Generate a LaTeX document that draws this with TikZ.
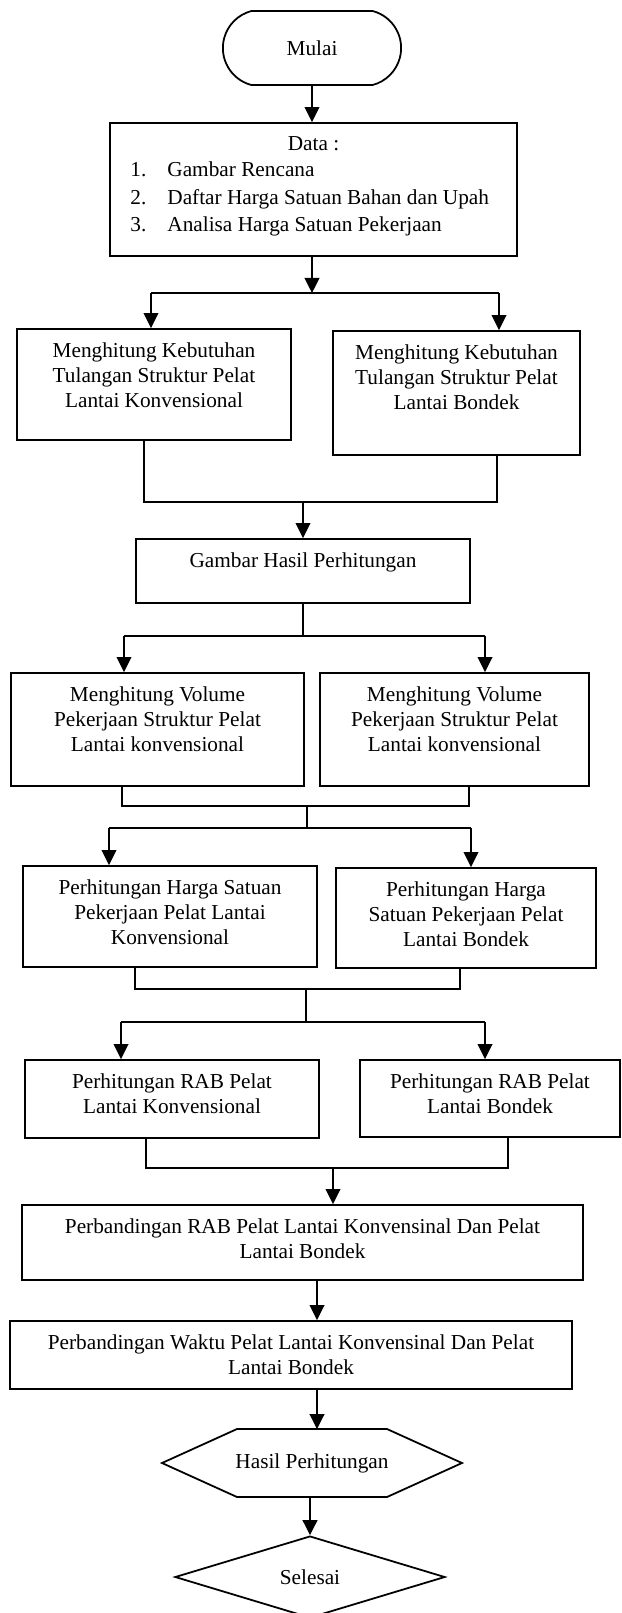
\documentclass[tikz,border=0pt]{standalone}
\usepackage{fontspec}
\setmainfont{Liberation Serif}
\usetikzlibrary{arrows.meta, fit, shapes.geometric, shapes.misc}
\newcommand{\px}{0.564pt}
\tikzset{box/.style={draw, rectangle, inner sep=0pt, line width=1pt}}
\tikzset{txt/.style={anchor=north, align=center, inner sep=0pt, yshift=-8pt}}
\tikzset{lst/.style={anchor=north west, align=left, inner sep=0pt, xshift=11.8pt, yshift=-22.2pt, font=\fontsize{12}{15.5}\selectfont}}
\tikzset{ln/.style={line width=1pt}}
\tikzset{arr/.style={line width=1pt, -{Triangle[length=8.5pt, width=8.3pt]}}}

\begin{document}
\begin{tikzpicture}[x=\px, y=-\px, font=\fontsize{12}{14.1}\selectfont]
\path[use as bounding box, fill=white] (0,0) rectangle (622,1613);

% start and data
\node[draw, line width=1pt, rounded rectangle, rounded rectangle arc length=150,
      minimum width=107.2pt, minimum height=41.7pt] (mulai) at (312,48) {Mulai};
\node[box, fit={(110,123) (517,256)}, label={[txt]north:{Data :}},
      label={[lst]north west:{\makebox[20.9pt][l]{1.}Gambar Rencana\\
        \makebox[20.9pt][l]{2.}Daftar Harga Satuan Bahan dan Upah\\
        \makebox[20.9pt][l]{3.}Analisa Harga Satuan Pekerjaan}}] (data) {};

% reinforcement
\node[box, fit={(17,329) (291,440)},
      label={[txt]north:{Menghitung Kebutuhan\\Tulangan Struktur Pelat\\Lantai Konvensional}}] (mk1) {};
\node[box, fit={(333,331) (580,455)},
      label={[txt]north:{Menghitung Kebutuhan\\Tulangan Struktur Pelat\\Lantai Bondek}}] (mk2) {};
\node[box, fit={(136,539) (470,603)},
      label={[txt]north:{Gambar Hasil Perhitungan}}] (gambar) {};

% volume
\node[box, fit={(11,673) (304,786)},
      label={[txt]north:{Menghitung Volume\\Pekerjaan Struktur Pelat\\Lantai konvensional}}] (mv1) {};
\node[box, fit={(320,673) (589,786)},
      label={[txt]north:{Menghitung Volume\\Pekerjaan Struktur Pelat\\Lantai konvensional}}] (mv2) {};

% unit price
\node[box, fit={(23,866) (317,967)},
      label={[txt]north:{Perhitungan Harga Satuan\\Pekerjaan Pelat Lantai\\Konvensional}}] (ph1) {};
\node[box, fit={(336,868) (596,968)},
      label={[txt]north:{Perhitungan Harga\\Satuan Pekerjaan Pelat\\Lantai Bondek}}] (ph2) {};

% RAB
\node[box, fit={(25,1060) (319,1138)},
      label={[txt]north:{Perhitungan RAB Pelat\\Lantai Konvensional}}] (rab1) {};
\node[box, fit={(360,1060) (620,1137)},
      label={[txt]north:{Perhitungan RAB Pelat\\Lantai Bondek}}] (rab2) {};
\node[box, fit={(22,1205) (583,1280)},
      label={[txt]north:{Perbandingan RAB Pelat Lantai Konvensinal Dan Pelat\\Lantai Bondek}}] (prab) {};
\node[box, fit={(10,1321) (572,1389)},
      label={[txt]north:{Perbandingan Waktu Pelat Lantai Konvensinal Dan Pelat\\Lantai Bondek}}] (pw) {};

% result and end
\node[minimum height=37.8pt, inner sep=0pt] (hasil) at (312,1463) {Hasil Perhitungan};
\draw[ln] ([shift={(-150,0)}]hasil.center) -- ([shift={(-75,-34)}]hasil.center)
  -- ([shift={(75,-34)}]hasil.center) -- ([shift={(150,0)}]hasil.center)
  -- ([shift={(75,34)}]hasil.center) -- ([shift={(-75,34)}]hasil.center) -- cycle;
\node[draw, diamond, aspect=3.3, line width=1pt, inner sep=0pt,
      minimum width=152.3pt, minimum height=46.2pt] (selesai) at (310,1577) {Selesai};

% connectors
\coordinate (sp1l) at (151,293);
\coordinate (sp1r) at (499,293);
\draw[arr] (mulai.south) -- (mulai.south |- data.north);
\draw[arr] (data.south -| mulai) -- (sp1l -| mulai);
\draw[ln] (sp1l) -- (sp1r);
\draw[arr] (sp1l) -- (sp1l |- mk1.north);
\draw[arr] (sp1r) -- (sp1r |- mk2.north);

\coordinate (jn1l) at (144,502);
\coordinate (jn1r) at (497,502);
\draw[ln] (jn1l |- mk1.south) -- (jn1l) -- (jn1r) -- (jn1r |- mk2.south);
\draw[arr] (gambar.north |- jn1l) -- (gambar.north);

\coordinate (sp2l) at (124,636);
\coordinate (sp2r) at (485,636);
\draw[ln] (gambar.south) -- (gambar.south |- sp2l);
\draw[ln] (sp2l) -- (sp2r);
\draw[arr] (sp2l) -- (sp2l |- mv1.north);
\draw[arr] (sp2r) -- (sp2r |- mv2.north);

\coordinate (jn2l) at (122,806);
\coordinate (jn2r) at (469,806);
\coordinate (jn2m) at (307,806);
\coordinate (sp3l) at (109,828);
\coordinate (sp3r) at (471,828);
\draw[ln] (jn2l |- mv1.south) -- (jn2l) -- (jn2r) -- (jn2r |- mv2.south);
\draw[ln] (jn2m) -- (jn2m |- sp3l);
\draw[ln] (sp3l) -- (sp3r);
\draw[arr] (sp3l) -- (sp3l |- ph1.north);
\draw[arr] (sp3r) -- (sp3r |- ph2.north);

\coordinate (jn3l) at (135,989);
\coordinate (jn3r) at (460,989);
\coordinate (jn3m) at (306,989);
\coordinate (sp4l) at (121,1022);
\coordinate (sp4r) at (485,1022);
\draw[ln] (jn3l |- ph1.south) -- (jn3l) -- (jn3r) -- (jn3r |- ph2.south);
\draw[ln] (jn3m) -- (jn3m |- sp4l);
\draw[ln] (sp4l) -- (sp4r);
\draw[arr] (sp4l) -- (sp4l |- rab1.north);
\draw[arr] (sp4r) -- (sp4r |- rab2.north);

\coordinate (jn4l) at (146,1168);
\coordinate (jn4r) at (508,1168);
\coordinate (jn4m) at (333,1168);
\draw[ln] (jn4l |- rab1.south) -- (jn4l) -- (jn4r) -- (jn4r |- rab2.south);
\draw[arr] (jn4m) -- (jn4m |- prab.north);

\coordinate (ax) at (317,1300);
\draw[arr] (prab.south -| ax) -- (pw.north -| ax);
\draw[arr] (pw.south -| ax) -- (hasil.north -| ax);
\draw[arr] (hasil.south -| selesai) -- (selesai.north);
\end{tikzpicture}
\end{document}
